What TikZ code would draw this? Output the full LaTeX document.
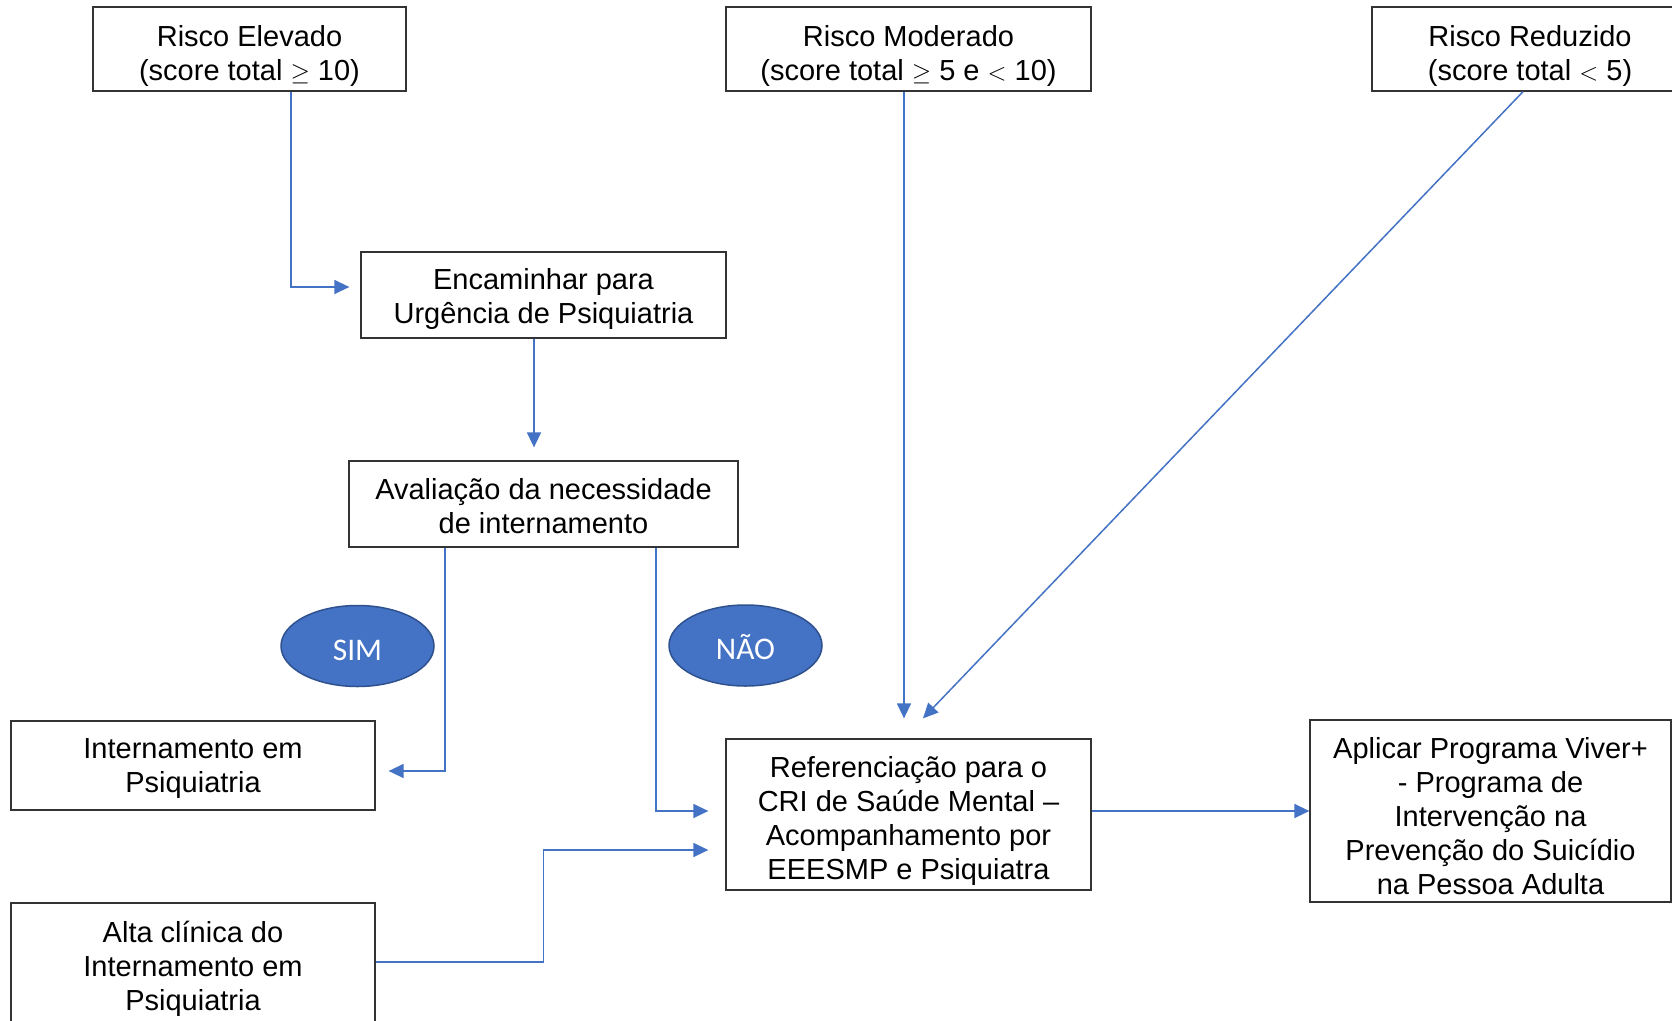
\documentclass[tikz,border=0pt]{standalone}
\usepackage{fontspec}
\setmainfont{Liberation Sans}
\newfontfamily\ellfont{Carlito}
\usetikzlibrary{arrows.meta,shapes.geometric}
\definecolor{conblue}{HTML}{4472C4}
\definecolor{ellborder}{HTML}{2F528F}
\tikzset{
  box/.style={draw=black!80, line width=1.3pt, inner sep=0pt},
  boxtext/.style={align=center, inner sep=0pt, font=\fontsize{29}{34}\selectfont},
  oval/.style={ellipse, fill=conblue, draw=ellborder, line width=1.5pt,
    minimum width=153pt, minimum height=81pt, inner sep=0pt},
  ovaltext/.style={inner sep=0pt, text=white, font=\ellfont\fontsize{31.5}{34}\selectfont},
  arr/.style={draw=conblue, line width=1.5pt, -{Triangle[length=15pt,width=14pt]}}
}
\begin{document}
\begin{tikzpicture}[x=1pt,y=-1pt]
\useasboundingbox (0,0) rectangle (1672,1020);
\clip (0,0) rectangle (1672,1020);
\fill[white] (0,0) rectangle (1672,1020);

\node[box, minimum width=313pt, minimum height=84pt] (elev) at (249.5,49) {};
\node[boxtext] at ([yshift=-6.5pt]elev.center) {Risco Elevado\\(score total $\geq$ 10)};
\node[box, minimum width=365pt, minimum height=84pt] (mod) at (908.5,49) {};
\node[boxtext] at ([yshift=-6.5pt]mod.center) {Risco Moderado\\(score total $\geq$ 5 e $<$ 10)};
\node[box, minimum width=316pt, minimum height=84pt] (red) at (1530,49) {};
\node[boxtext] at ([yshift=-6.5pt]red.center) {Risco Reduzido\\(score total $<$ 5)};
\node[box, minimum width=365pt, minimum height=86pt] (enc) at (543.5,295) {};
\node[boxtext] at ([yshift=-4pt]enc.center) {Encaminhar para\\Urgência de Psiquiatria};
\node[box, minimum width=389pt, minimum height=86pt] (aval) at (543.5,504) {};
\node[boxtext] at ([yshift=-2.5pt]aval.center) {Avaliação da necessidade\\de internamento};
\node[box, minimum width=364pt, minimum height=89pt] (intern) at (193,765.5) {};
\node[boxtext] at ([yshift=-3pt]intern.center) {Internamento em\\Psiquiatria};
\node[box, minimum width=364pt, minimum height=126pt] (alta) at (193,966) {};
\node[boxtext] at ([yshift=-3pt]alta.center) {Alta clínica do\\Internamento em\\Psiquiatria};
\node[box, minimum width=365pt, minimum height=151pt] (ref) at (908.5,814.5) {};
\node[boxtext] at ([yshift=-6.5pt]ref.center) {Referenciação para o\\CRI de Saúde Mental –\\Acompanhamento por\\EEESMP e Psiquiatra};
\node[box, minimum width=361pt, minimum height=182pt] (apl) at (1490.5,811) {};
\node[boxtext] at ([yshift=-5pt]apl.center) {Aplicar Programa Viver+\\- Programa de\\Intervenção na\\Prevenção do Suicídio\\na Pessoa Adulta};

\node[oval] (sim) at (357.5,646) {};
\node[ovaltext] at ([yshift=-4pt]sim.center) {SIM};
\node[oval] (nao) at (745.5,645.5) {};
\node[ovaltext] at ([yshift=-2pt]nao.center) {NÃO};

\draw[arr] ([xshift=41.5pt]elev.south) |- ([xshift=-11pt,yshift=8pt]enc.west);
\draw[arr] ([xshift=-9.5pt]enc.south) -- ([xshift=-9.5pt,yshift=13pt]aval.north);
\draw[arr] ([xshift=-98.5pt]aval.south) |- ([xshift=13pt,yshift=-5.5pt]intern.east);
\draw[arr] ([xshift=112.5pt]aval.south) |- ([xshift=-17pt,yshift=3.5pt]ref.west);
\draw[arr] ([yshift=4pt]alta.east) -- ++(168,0) |- ([xshift=-17pt,yshift=-35.5pt]ref.west);
\draw[arr] ([xshift=-4.5pt]mod.south) -- ([xshift=-4.5pt,yshift=20pt]ref.north);
\draw[arr] ([xshift=-7pt]red.south) -- ([xshift=14.5pt,yshift=20pt]ref.north);
\draw[arr] ([yshift=3.5pt]ref.east) -- ([yshift=3.5pt]ref.east -| apl.west);
\end{tikzpicture}
\end{document}
